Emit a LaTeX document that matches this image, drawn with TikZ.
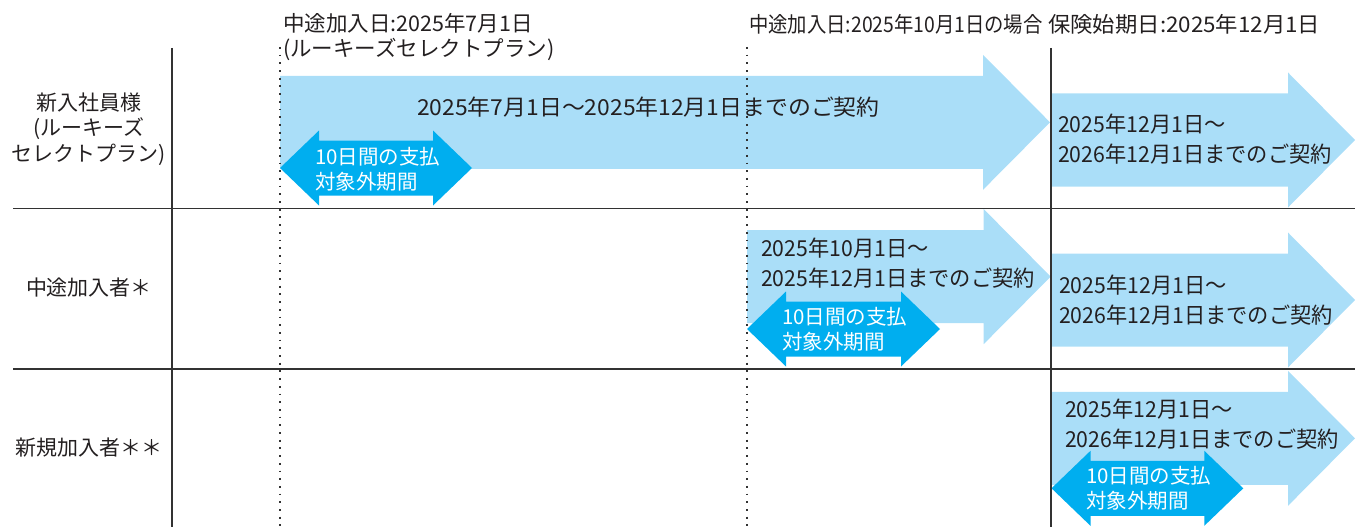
\documentclass[tikz,border=0pt]{standalone}
\usepackage{fontspec}
\newfontfamily\jp{Noto Sans CJK JP}
\newfontfamily\jpnarrow[FakeStretch=0.9]{Noto Sans CJK JP}
\newfontfamily\jpslim[FakeStretch=0.965]{Noto Sans CJK JP}
\newfontfamily\jpwide[FakeStretch=1.04]{Noto Sans CJK JP}
\definecolor{lb}{RGB}{170,222,248}
\definecolor{db}{RGB}{0,174,239}
\definecolor{txt}{RGB}{35,31,32}
\definecolor{ln}{RGB}{50,50,50}
\newcommand\rarr[3]{%
  \fill[lb] (#1,#3-46.5) -- (#2-67,#3-46.5) -- (#2-67,#3-67.5) -- (#2,#3)
    -- (#2-67,#3+67.5) -- (#2-67,#3+46.5) -- (#1,#3+46.5) -- cycle;}
\newcommand\darr[3]{%
  \fill[db] (#1,#3) -- (#1+39,#3-37.5) -- (#1+39,#3-27.5) -- (#2-39,#3-27.5)
    -- (#2-39,#3-37.5) -- (#2,#3) -- (#2-39,#3+37.5) -- (#2-39,#3+27.5)
    -- (#1+39,#3+27.5) -- (#1+39,#3+37.5) -- cycle;}
\tikzset{
  lbl/.style={font=\jpslim\fontsize{22}{30}\selectfont, text=txt, inner sep=0pt, anchor=west, align=left},
  toplbl/.style={font=\jp\fontsize{21.5}{25}\selectfont, text=txt, inner sep=0pt, anchor=west, align=left},
  wlbl/.style={font=\jp\fontsize{20.5}{25}\selectfont, text=white, inner sep=0pt, anchor=west, align=left},
  rowlbl/.style={font=\jp\fontsize{21}{25.5}\selectfont, text=txt, inner sep=0pt, align=center},
  solidln/.style={draw=ln, line width=1.8pt},
  dotln/.style={draw=ln, line width=1.8pt, dash pattern=on 1.8pt off 5.9pt}
}
\begin{document}
\begin{tikzpicture}[x=1pt,y=-1pt]
\useasboundingbox (0,0) rectangle (1361,527);
% arrows
\rarr{280}{1050}{122.3}
\rarr{1051}{1355}{140}
\rarr{747}{1050.7}{276.6}
\rarr{1051.5}{1355}{300}
\rarr{1051.5}{1355}{438.3}
\darr{280}{472}{168}
\darr{747}{940}{329}
\darr{1051.5}{1243.3}{488.3}
% grid lines
\coordinate (h1a) at (13,208.5); \coordinate (h1b) at (1355,208.5);
\coordinate (h2a) at (13,369); \coordinate (h2b) at (1355,369);
\coordinate (v1a) at (172,48); \coordinate (v1b) at (172,527);
\coordinate (v2a) at (1051,48); \coordinate (v2b) at (1051,527);
\coordinate (d1a) at (280,47); \coordinate (d1b) at (280,527);
\coordinate (d2a) at (747,47); \coordinate (d2b) at (747,527);
\draw[solidln] (h1a) -- (h1b);
\draw[solidln] (h2a) -- (h2b);
\draw[solidln] (v1a) -- (v1b);
\draw[solidln] (v2a) -- (v2b);
\draw[dotln] (d1a) -- (d1b);
\draw[dotln] (d2a) -- (d2b);
% top labels
\node[toplbl] (t1) at (283,37) {中途加入日:2025年7月1日\\(ルーキーズセレクトプラン)};
\node[toplbl, font=\jpnarrow\fontsize{21.5}{25}\selectfont] (t2) at (749,24.5) {中途加入日:2025年10月1日の場合};
\node[toplbl, font=\jpwide\fontsize{21.5}{25}\selectfont] (t3) at (1048,24.5) {保険始期日:2025年12月1日};
% row labels
\node[rowlbl] (r1) at (89,129) {新入社員様\\(ルーキーズ\\セレクトプラン)};
\node[rowlbl] (r2) at (89,288) {中途加入者＊};
\node[rowlbl] (r3) at (89.5,448) {新規加入者＊＊};
% arrow texts
\node[lbl, font=\jpwide\fontsize{22}{30}\selectfont] (a1) at (417,107) {2025年7月1日～2025年12月1日までのご契約};
\node[lbl] (a2) at (1058,139.5) {2025年12月1日～\\2026年12月1日までのご契約};
\node[lbl] (a3) at (761,263.5) {2025年10月1日～\\2025年12月1日までのご契約};
\node[lbl] (a4) at (1059,300.5) {2025年12月1日～\\2026年12月1日までのご契約};
\node[lbl] (a5) at (1065,424.5) {2025年12月1日～\\2026年12月1日までのご契約};
% dark arrow texts
\node[wlbl] (w1) at (315,169) {10日間の支払\\対象外期間};
\node[wlbl] (w2) at (782,329.5) {10日間の支払\\対象外期間};
\node[wlbl] (w3) at (1086,488.5) {10日間の支払\\対象外期間};
\end{tikzpicture}
\end{document}
